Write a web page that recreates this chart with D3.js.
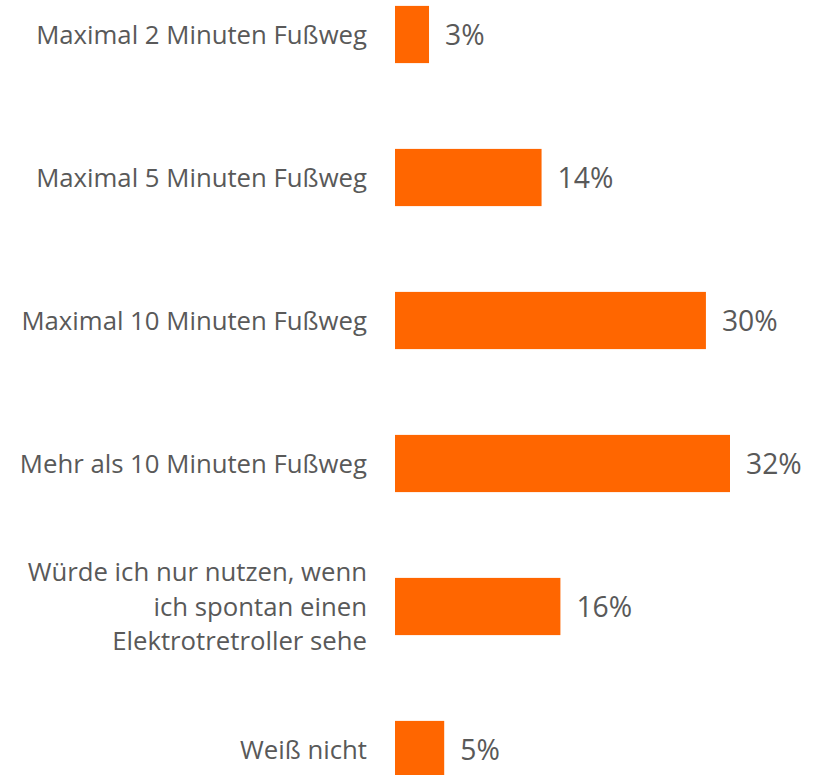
<!DOCTYPE html>
<html><head><meta charset="utf-8">
<script src="https://cdn.jsdelivr.net/npm/d3@7"></script>
<style>body{margin:0;background:#fff}svg{display:block}</style>
</head><body>
<svg id="c" width="817" height="775"></svg>
<script>
const categories = [
  ["Maximal 2 Minuten Fußweg"],
  ["Maximal 5 Minuten Fußweg"],
  ["Maximal 10 Minuten Fußweg"],
  ["Mehr als 10 Minuten Fußweg"],
  ["Würde ich nur nutzen, wenn", "ich spontan einen", "Elektrotretroller sehe"],
  ["Weiß nicht"]
];
const values = [3.25, 14.0, 29.7, 32.0, 15.8, 4.7];
const valueLabels = ["3%", "14%", "30%", "32%", "16%", "5%"];

const svg = d3.select("#c");
const keys = categories.map((c, i) => i);
const x = d3.scaleLinear().domain([0, 32]).range([395, 730]);
const y = d3.scaleBand().domain(keys).range([-37, 821]).paddingInner(0.6).paddingOuter(0.3);
const font = "'Open Sans', sans-serif";
const lh = 34.5;

// fit font size so first label spans ~331px
const probe = svg.append("text").attr("font-family", font).attr("font-size", 20).text(categories[0][0]);
const w20 = probe.node().getComputedTextLength();
probe.remove();
const fs = Math.min(26, Math.max(18, 20 * 331 / w20));

svg.selectAll("rect.bar").data(values).join("rect")
  .attr("class", "bar")
  .attr("x", x(0))
  .attr("y", (d, i) => y(i))
  .attr("width", d => x(d) - x(0))
  .attr("height", y.bandwidth())
  .attr("fill", "#FF6600");

svg.selectAll("text.val").data(values).join("text")
  .attr("class", "val")
  .attr("x", d => x(d) + 16)
  .attr("y", (d, i) => y(i) + y.bandwidth() / 2)
  .attr("dy", "0.36em")
  .attr("font-family", font)
  .attr("font-size", fs * 1.1)
  .attr("fill", "#595959")
  .text((d, i) => valueLabels[i]);

const lab = svg.selectAll("text.cat").data(categories).join("text")
  .attr("class", "cat")
  .attr("text-anchor", "end")
  .attr("font-family", font)
  .attr("font-size", fs)
  .attr("fill", "#595959");
lab.each(function(lines, i) {
  const cy = y(i) + y.bandwidth() / 2;
  const n = lines.length;
  d3.select(this).selectAll("tspan").data(lines).join("tspan")
    .attr("x", 367)
    .attr("y", (l, j) => cy + (j - (n - 1) / 2) * lh)
    .attr("dy", "0.35em")
    .text(l => l);
});
</script>
</body></html>
